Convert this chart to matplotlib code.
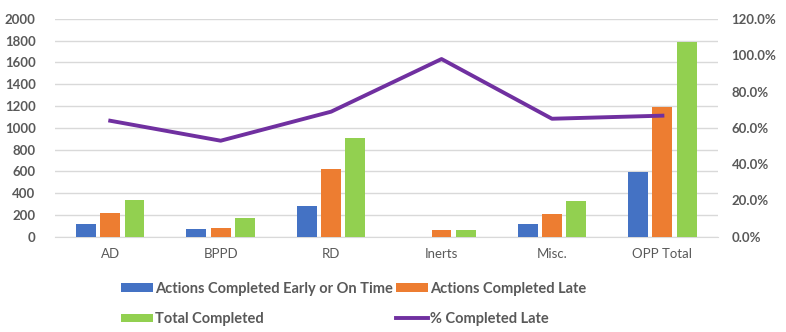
import matplotlib.pyplot as plt
import numpy as np
from matplotlib.ticker import FuncFormatter

plt.rcParams['font.family'] = ['Lato', 'DejaVu Sans']

categories = ['AD', 'BPPD', 'RD', 'Inerts', 'Misc.', 'OPP Total']
on_time = [114, 68, 279, 0, 114, 592]
late = [215, 80, 619, 60, 206, 1195]
total = [334, 169, 910, 64, 325, 1792]
pct_late = [63.9, 52.9, 68.9, 97.9, 65.0, 66.7]

blue = '#4472C4'
orange = '#ED7D31'
green = '#92D050'
purple = '#7030A0'
txt = '#595959'

fig = plt.figure(figsize=(7.86, 3.32), dpi=100)
ax = fig.add_axes([0.07, 0.287, 0.843, 0.656])
ax2 = ax.twinx()

x = np.arange(len(categories))
w = 0.18
step = 0.22
b1 = ax.bar(x - step, on_time, w, color=blue, zorder=3)
b2 = ax.bar(x, late, w, color=orange, zorder=3)
b3 = ax.bar(x + step, total, w, color=green, zorder=3)

ax.set_xlim(-0.5, len(categories) - 0.5)
ax.set_ylim(0, 2000)
ax.set_yticks(range(0, 2001, 200))
ax.yaxis.grid(True, color='#D9D9D9', lw=1, zorder=0)
ax.set_axisbelow(True)
ax.set_xticks(x)
ax.set_xticklabels(categories, color=txt, fontsize=9.5)
for lab in ax.get_yticklabels():
    lab.set_fontweight('bold')
ax.tick_params(axis='y', length=0, labelcolor=txt, labelsize=9.5, pad=14)
ax.tick_params(axis='x', length=0, pad=8)
for s in ['top', 'right', 'left']:
    ax.spines[s].set_visible(False)
ax.spines['bottom'].set_color('#D9D9D9')

ln, = ax2.plot(x, [p / 100 for p in pct_late], color=purple, lw=2.8, zorder=4)
ax2.set_ylim(0, 1.2)
ax2.set_yticks(np.arange(0, 1.21, 0.2))
ax2.yaxis.set_major_formatter(FuncFormatter(lambda v, p: '{:.1f}%'.format(v * 100)))
ax2.tick_params(axis='y', length=0, labelcolor=txt, labelsize=9.5, pad=10)
for lab in ax2.get_yticklabels():
    lab.set_fontweight('bold')
for s in ax2.spines.values():
    s.set_visible(False)

fig.legend([b1, b3, b2, ln],
           ['Actions Completed Early or On Time', 'Total Completed',
            'Actions Completed Late', '% Completed Late'],
           ncol=2, loc='upper left', bbox_to_anchor=(0.137, 0.19),
           frameon=False, handlelength=2.2, handleheight=0.55, handletextpad=0.15,
           columnspacing=0.2, labelspacing=1.1,
           prop={'weight': 'bold', 'size': 10.5}, labelcolor=txt)

fig.savefig('out.png', dpi=100)
